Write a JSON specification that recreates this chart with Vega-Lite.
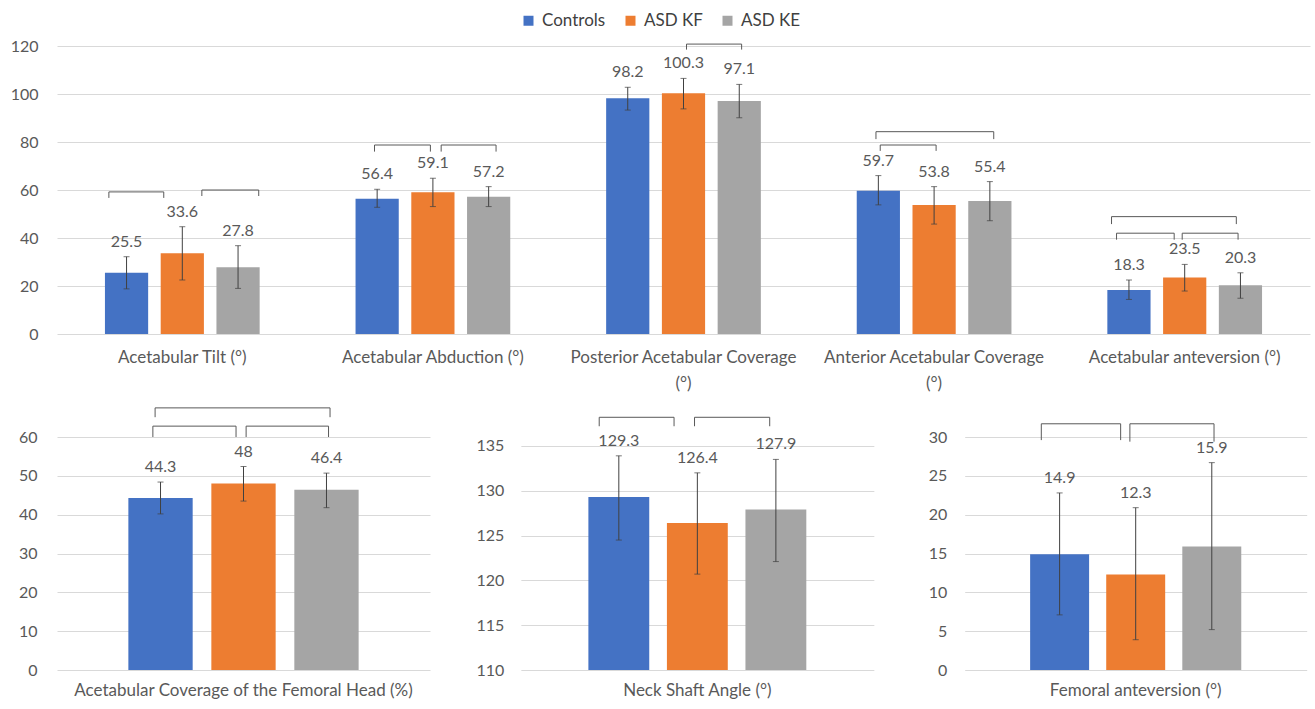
{
  "$schema": "https://vega.github.io/schema/vega-lite/v6.json",
  "padding": {"left": 10, "top": 12, "right": 5, "bottom": 5},
  "config": {
    "font": "Lato",
    "view": {"stroke": null},
    "axis": {"labelColor": "#595959", "labelFontSize": 16, "domain": false, "ticks": false, "title": null, "gridColor": "#d9d9d9", "gridWidth": 1, "labelOverlap": false},
    "axisX": {"grid": false, "labelAngle": 0, "labelLimit": 0, "labelLineHeight": 26, "labelFontSize": 17}
  },
  "datasets": {
    "top": [
      {"group": "Acetabular Tilt (°)", "series": "Controls", "mean": 25.5, "lo": 18.8, "hi": 32.2},
      {"group": "Acetabular Tilt (°)", "series": "ASD KF", "mean": 33.6, "lo": 22.5, "hi": 44.7},
      {"group": "Acetabular Tilt (°)", "series": "ASD KE", "mean": 27.8, "lo": 19.0, "hi": 36.8},
      {"group": "Acetabular Abduction (°)", "series": "Controls", "mean": 56.4, "lo": 52.8, "hi": 60.3},
      {"group": "Acetabular Abduction (°)", "series": "ASD KF", "mean": 59.1, "lo": 53.1, "hi": 64.9},
      {"group": "Acetabular Abduction (°)", "series": "ASD KE", "mean": 57.2, "lo": 53.1, "hi": 61.4},
      {"group": "Posterior Acetabular Coverage (°)", "series": "Controls", "mean": 98.2, "lo": 93.3, "hi": 102.8},
      {"group": "Posterior Acetabular Coverage (°)", "series": "ASD KF", "mean": 100.3, "lo": 93.8, "hi": 106.5},
      {"group": "Posterior Acetabular Coverage (°)", "series": "ASD KE", "mean": 97.1, "lo": 90.1, "hi": 104.0},
      {"group": "Anterior Acetabular Coverage (°)", "series": "Controls", "mean": 59.7, "lo": 53.8, "hi": 66.0},
      {"group": "Anterior Acetabular Coverage (°)", "series": "ASD KF", "mean": 53.8, "lo": 45.8, "hi": 61.4},
      {"group": "Anterior Acetabular Coverage (°)", "series": "ASD KE", "mean": 55.4, "lo": 47.2, "hi": 63.5},
      {"group": "Acetabular anteversion (°)", "series": "Controls", "mean": 18.3, "lo": 14.4, "hi": 22.5},
      {"group": "Acetabular anteversion (°)", "series": "ASD KF", "mean": 23.5, "lo": 17.9, "hi": 29.0},
      {"group": "Acetabular anteversion (°)", "series": "ASD KE", "mean": 20.3, "lo": 14.9, "hi": 25.5}
    ],
    "topBr": [
      {"x1": 0.207, "x2": 0.426, "y": 59.2, "yEnd": 56.7},
      {"x1": 0.578, "x2": 0.805, "y": 60, "yEnd": 57.5},
      {"x1": 1.267, "x2": 1.49, "y": 78.75, "yEnd": 76.0},
      {"x1": 1.533, "x2": 1.752, "y": 78.75, "yEnd": 76.0},
      {"x1": 2.512, "x2": 2.732, "y": 120.8, "yEnd": 118.5},
      {"x1": 3.268, "x2": 3.738, "y": 84.3, "yEnd": 81.2},
      {"x1": 3.285, "x2": 3.508, "y": 78.75, "yEnd": 76.3},
      {"x1": 4.208, "x2": 4.706, "y": 48.9, "yEnd": 45.8},
      {"x1": 4.228, "x2": 4.458, "y": 42, "yEnd": 39.3},
      {"x1": 4.49, "x2": 4.713, "y": 42, "yEnd": 39.3}
    ],
    "bot": [
      {"panel": "cov", "group": "Acetabular Coverage of the Femoral Head (%)", "series": "Controls", "mean": 44.3, "lo": 40.2, "hi": 48.4},
      {"panel": "cov", "group": "Acetabular Coverage of the Femoral Head (%)", "series": "ASD KF", "mean": 48, "lo": 43.5, "hi": 52.4},
      {"panel": "cov", "group": "Acetabular Coverage of the Femoral Head (%)", "series": "ASD KE", "mean": 46.4, "lo": 41.8, "hi": 50.7},
      {"panel": "nsa", "group": "Neck Shaft Angle (°)", "series": "Controls", "mean": 129.3, "lo": 124.5, "hi": 133.9},
      {"panel": "nsa", "group": "Neck Shaft Angle (°)", "series": "ASD KF", "mean": 126.4, "lo": 120.7, "hi": 132.0},
      {"panel": "nsa", "group": "Neck Shaft Angle (°)", "series": "ASD KE", "mean": 127.9, "lo": 122.1, "hi": 133.5},
      {"panel": "fa", "group": "Femoral anteversion (°)", "series": "Controls", "mean": 14.9, "lo": 7.1, "hi": 22.8},
      {"panel": "fa", "group": "Femoral anteversion (°)", "series": "ASD KF", "mean": 12.3, "lo": 3.9, "hi": 20.9},
      {"panel": "fa", "group": "Femoral anteversion (°)", "series": "ASD KE", "mean": 15.9, "lo": 5.2, "hi": 26.7}
    ],
    "botBr": [
      {"panel": "cov", "x1": 0.263, "x2": 0.732, "y": 67.5, "yEnd": 65.1},
      {"panel": "cov", "x1": 0.257, "x2": 0.48, "y": 62.8, "yEnd": 60},
      {"panel": "cov", "x1": 0.507, "x2": 0.728, "y": 62.8, "yEnd": 60},
      {"panel": "nsa", "x1": 0.222, "x2": 0.434, "y": 138.2, "yEnd": 137.2},
      {"panel": "nsa", "x1": 0.492, "x2": 0.705, "y": 138.2, "yEnd": 137.2},
      {"panel": "fa", "x1": 0.224, "x2": 0.456, "y": 31.7, "yEnd": 29.6},
      {"panel": "fa", "x1": 0.483, "x2": 0.729, "y": 31.7, "yEnd": 29.4}
    ]
  },
  "spacing": 16,
  "resolve": {"scale": {"x": "independent", "xOffset": "independent", "y": "independent"}},
  "vconcat": [
    {
      "width": 1253,
      "height": 288,
      "layer": [
        {
          "data": {"name": "top"},
          "encoding": {
            "x": {"field": "group", "type": "nominal", "sort": ["Acetabular Tilt (°)", "Acetabular Abduction (°)", "Posterior Acetabular Coverage (°)", "Anterior Acetabular Coverage (°)", "Acetabular anteversion (°)"], "scale": {"paddingInner": 0, "paddingOuter": 0}, "axis": {"labelPadding": 15, "labelExpr": "length(datum.label) > 28 ? [replace(datum.label, ' (°)', ''), '(°)'] : datum.label"}},
            "xOffset": {"field": "series", "type": "nominal", "sort": ["Controls", "ASD KF", "ASD KE"], "scale": {"paddingInner": 0.225, "paddingOuter": 0.86}}
          },
          "layer": [
            {
              "mark": {"type": "bar"},
              "encoding": {
                "y": {"field": "mean", "type": "quantitative", "scale": {"domain": [0, 120]}, "axis": {"values": [0, 20, 40, 60, 80, 100, 120], "grid": true, "labelPadding": 19}},
                "color": {"field": "series", "type": "nominal", "scale": {"domain": ["Controls", "ASD KF", "ASD KE"], "range": ["#4472C4", "#ED7D31", "#A5A5A5"]},
                  "legend": {"orient": "none", "legendX": 463, "legendY": -34, "direction": "horizontal", "title": null, "symbolType": "square", "symbolSize": 100, "symbolStrokeWidth": 0, "labelFontSize": 17, "labelColor": "#404040", "columnPadding": 16, "labelOffset": 5}}
              }
            },
            {"mark": {"type": "rule", "color": "#404040", "strokeWidth": 1}, "encoding": {"y": {"field": "lo", "type": "quantitative", "axis": {"values": [0, 20, 40, 60, 80, 100, 120], "grid": true, "labelPadding": 19}}, "y2": {"field": "hi"}}},
            {"mark": {"type": "tick", "color": "#404040", "size": 6, "thickness": 1}, "encoding": {"y": {"field": "lo", "type": "quantitative", "axis": {"values": [0, 20, 40, 60, 80, 100, 120], "grid": true, "labelPadding": 19}}}},
            {"mark": {"type": "tick", "color": "#404040", "size": 6, "thickness": 1}, "encoding": {"y": {"field": "hi", "type": "quantitative", "axis": {"values": [0, 20, 40, 60, 80, 100, 120], "grid": true, "labelPadding": 19}}}},
            {"mark": {"type": "text", "dy": -15, "baseline": "middle", "fontSize": 16, "color": "#595959"}, "encoding": {"y": {"field": "hi", "type": "quantitative", "axis": {"values": [0, 20, 40, 60, 80, 100, 120], "grid": true, "labelPadding": 19}}, "text": {"field": "mean", "type": "quantitative"}}}
          ]
        },
        {
          "data": {"name": "topBr"},
          "layer": [
            {"mark": {"type": "rule", "color": "#595959", "strokeWidth": 1}, "encoding": {"x": {"field": "x1", "type": "quantitative", "scale": {"domain": [0, 5], "nice": false, "zero": false}, "axis": null}, "x2": {"field": "x2"}, "y": {"field": "y", "type": "quantitative", "scale": {"domain": [0, 120]}, "axis": {"values": [0, 20, 40, 60, 80, 100, 120], "grid": true, "labelPadding": 19}}}},
            {"mark": {"type": "rule", "color": "#595959", "strokeWidth": 1}, "encoding": {"x": {"field": "x1", "type": "quantitative"}, "y": {"field": "y", "type": "quantitative", "axis": {"values": [0, 20, 40, 60, 80, 100, 120], "grid": true, "labelPadding": 19}}, "y2": {"field": "yEnd"}}},
            {"mark": {"type": "rule", "color": "#595959", "strokeWidth": 1}, "encoding": {"x": {"field": "x2", "type": "quantitative"}, "y": {"field": "y", "type": "quantitative", "axis": {"values": [0, 20, 40, 60, 80, 100, 120], "grid": true, "labelPadding": 19}}, "y2": {"field": "yEnd"}}}
          ]
        }
      ],
      "resolve": {"scale": {"x": "independent"}}
    },
    {
      "bounds": "flush",
      "spacing": 90.85,
      "resolve": {"scale": {"x": "independent", "xOffset": "independent", "y": "independent"}},
      "hconcat": [
        {
          "width": 373,
          "height": 233,
          "layer": [
            {
              "data": {"name": "bot"},
              "transform": [{"filter": "datum.panel == 'cov'"}],
              "encoding": {
                "x": {"field": "group", "type": "nominal", "scale": {"paddingInner": 0, "paddingOuter": 0}, "axis": {"labelPadding": 12}},
                "xOffset": {"field": "series", "type": "nominal", "sort": ["Controls", "ASD KF", "ASD KE"], "scale": {"paddingInner": 0.225, "paddingOuter": 0.86}}
              },
              "layer": [
                {"mark": {"type": "bar"}, "encoding": {"y": {"field": "mean", "type": "quantitative", "scale": {"domain": [0, 60]}, "axis": {"values": [0, 10, 20, 30, 40, 50, 60], "grid": true, "labelPadding": 20}}, "color": {"field": "series", "type": "nominal", "scale": {"domain": ["Controls", "ASD KF", "ASD KE"], "range": ["#4472C4", "#ED7D31", "#A5A5A5"]}, "legend": null}}},
                {"mark": {"type": "rule", "color": "#404040", "strokeWidth": 1}, "encoding": {"y": {"field": "lo", "type": "quantitative", "axis": {"values": [0, 10, 20, 30, 40, 50, 60], "grid": true, "labelPadding": 20}}, "y2": {"field": "hi"}}},
                {"mark": {"type": "tick", "color": "#404040", "size": 6, "thickness": 1}, "encoding": {"y": {"field": "lo", "type": "quantitative", "axis": {"values": [0, 10, 20, 30, 40, 50, 60], "grid": true, "labelPadding": 20}}}},
                {"mark": {"type": "tick", "color": "#404040", "size": 6, "thickness": 1}, "encoding": {"y": {"field": "hi", "type": "quantitative", "axis": {"values": [0, 10, 20, 30, 40, 50, 60], "grid": true, "labelPadding": 20}}}},
                {"mark": {"type": "text", "dy": -15, "baseline": "middle", "fontSize": 16, "color": "#595959"}, "encoding": {"y": {"field": "hi", "type": "quantitative", "axis": {"values": [0, 10, 20, 30, 40, 50, 60], "grid": true, "labelPadding": 20}}, "text": {"field": "mean", "type": "quantitative"}}}
              ]
            },
            {
              "data": {"name": "botBr"},
              "transform": [{"filter": "datum.panel == 'cov'"}],
              "layer": [
                {"mark": {"type": "rule", "color": "#595959", "strokeWidth": 1}, "encoding": {"x": {"field": "x1", "type": "quantitative", "scale": {"domain": [0, 1], "nice": false, "zero": false}, "axis": null}, "x2": {"field": "x2"}, "y": {"field": "y", "type": "quantitative", "scale": {"domain": [0, 60]}, "axis": {"values": [0, 10, 20, 30, 40, 50, 60], "grid": true, "labelPadding": 20}}}},
                {"mark": {"type": "rule", "color": "#595959", "strokeWidth": 1}, "encoding": {"x": {"field": "x1", "type": "quantitative"}, "y": {"field": "y", "type": "quantitative", "axis": {"values": [0, 10, 20, 30, 40, 50, 60], "grid": true, "labelPadding": 20}}, "y2": {"field": "yEnd"}}},
                {"mark": {"type": "rule", "color": "#595959", "strokeWidth": 1}, "encoding": {"x": {"field": "x2", "type": "quantitative"}, "y": {"field": "y", "type": "quantitative", "axis": {"values": [0, 10, 20, 30, 40, 50, 60], "grid": true, "labelPadding": 20}}, "y2": {"field": "yEnd"}}}
              ]
            }
          ],
          "resolve": {"scale": {"x": "independent"}}
        },
        {
          "width": 353,
          "height": 233,
          "layer": [
            {
              "data": {"name": "bot"},
              "transform": [{"filter": "datum.panel == 'nsa'"}],
              "encoding": {
                "x": {"field": "group", "type": "nominal", "scale": {"paddingInner": 0, "paddingOuter": 0}, "axis": {"labelPadding": 12}},
                "xOffset": {"field": "series", "type": "nominal", "sort": ["Controls", "ASD KF", "ASD KE"], "scale": {"paddingInner": 0.225, "paddingOuter": 0.86}}
              },
              "layer": [
                {"mark": {"type": "bar"}, "encoding": {"y": {"field": "mean", "type": "quantitative", "scale": {"domain": [110, 135], "zero": false}, "axis": {"values": [110, 115, 120, 125, 130, 135], "grid": true, "labelPadding": 17}}, "y2": {"datum": 110}, "color": {"field": "series", "type": "nominal", "scale": {"domain": ["Controls", "ASD KF", "ASD KE"], "range": ["#4472C4", "#ED7D31", "#A5A5A5"]}, "legend": null}}},
                {"mark": {"type": "rule", "color": "#404040", "strokeWidth": 1}, "encoding": {"y": {"field": "lo", "type": "quantitative", "axis": {"values": [110, 115, 120, 125, 130, 135], "grid": true, "labelPadding": 17}}, "y2": {"field": "hi"}}},
                {"mark": {"type": "tick", "color": "#404040", "size": 6, "thickness": 1}, "encoding": {"y": {"field": "lo", "type": "quantitative", "axis": {"values": [110, 115, 120, 125, 130, 135], "grid": true, "labelPadding": 17}}}},
                {"mark": {"type": "tick", "color": "#404040", "size": 6, "thickness": 1}, "encoding": {"y": {"field": "hi", "type": "quantitative", "axis": {"values": [110, 115, 120, 125, 130, 135], "grid": true, "labelPadding": 17}}}},
                {"mark": {"type": "text", "dy": -15, "baseline": "middle", "fontSize": 16, "color": "#595959"}, "encoding": {"y": {"field": "hi", "type": "quantitative", "axis": {"values": [110, 115, 120, 125, 130, 135], "grid": true, "labelPadding": 17}}, "text": {"field": "mean", "type": "quantitative"}}}
              ]
            },
            {
              "data": {"name": "botBr"},
              "transform": [{"filter": "datum.panel == 'nsa'"}],
              "layer": [
                {"mark": {"type": "rule", "color": "#595959", "strokeWidth": 1}, "encoding": {"x": {"field": "x1", "type": "quantitative", "scale": {"domain": [0, 1], "nice": false, "zero": false}, "axis": null}, "x2": {"field": "x2"}, "y": {"field": "y", "type": "quantitative", "scale": {"domain": [110, 135], "zero": false}, "axis": {"values": [110, 115, 120, 125, 130, 135], "grid": true, "labelPadding": 17}}}},
                {"mark": {"type": "rule", "color": "#595959", "strokeWidth": 1}, "encoding": {"x": {"field": "x1", "type": "quantitative"}, "y": {"field": "y", "type": "quantitative", "axis": {"values": [110, 115, 120, 125, 130, 135], "grid": true, "labelPadding": 17}}, "y2": {"field": "yEnd"}}},
                {"mark": {"type": "rule", "color": "#595959", "strokeWidth": 1}, "encoding": {"x": {"field": "x2", "type": "quantitative"}, "y": {"field": "y", "type": "quantitative", "axis": {"values": [110, 115, 120, 125, 130, 135], "grid": true, "labelPadding": 17}}, "y2": {"field": "yEnd"}}}
              ]
            }
          ],
          "resolve": {"scale": {"x": "independent"}}
        },
        {
          "width": 342,
          "height": 233,
          "layer": [
            {
              "data": {"name": "bot"},
              "transform": [{"filter": "datum.panel == 'fa'"}],
              "encoding": {
                "x": {"field": "group", "type": "nominal", "scale": {"paddingInner": 0, "paddingOuter": 0}, "axis": {"labelPadding": 12}},
                "xOffset": {"field": "series", "type": "nominal", "sort": ["Controls", "ASD KF", "ASD KE"], "scale": {"paddingInner": 0.225, "paddingOuter": 0.86}}
              },
              "layer": [
                {"mark": {"type": "bar"}, "encoding": {"y": {"field": "mean", "type": "quantitative", "scale": {"domain": [0, 30]}, "axis": {"values": [0, 5, 10, 15, 20, 25, 30], "grid": true, "labelPadding": 18}}, "color": {"field": "series", "type": "nominal", "scale": {"domain": ["Controls", "ASD KF", "ASD KE"], "range": ["#4472C4", "#ED7D31", "#A5A5A5"]}, "legend": null}}},
                {"mark": {"type": "rule", "color": "#404040", "strokeWidth": 1}, "encoding": {"y": {"field": "lo", "type": "quantitative", "axis": {"values": [0, 5, 10, 15, 20, 25, 30], "grid": true, "labelPadding": 18}}, "y2": {"field": "hi"}}},
                {"mark": {"type": "tick", "color": "#404040", "size": 6, "thickness": 1}, "encoding": {"y": {"field": "lo", "type": "quantitative", "axis": {"values": [0, 5, 10, 15, 20, 25, 30], "grid": true, "labelPadding": 18}}}},
                {"mark": {"type": "tick", "color": "#404040", "size": 6, "thickness": 1}, "encoding": {"y": {"field": "hi", "type": "quantitative", "axis": {"values": [0, 5, 10, 15, 20, 25, 30], "grid": true, "labelPadding": 18}}}},
                {"mark": {"type": "text", "dy": -15, "baseline": "middle", "fontSize": 16, "color": "#595959"}, "encoding": {"y": {"field": "hi", "type": "quantitative", "axis": {"values": [0, 5, 10, 15, 20, 25, 30], "grid": true, "labelPadding": 18}}, "text": {"field": "mean", "type": "quantitative"}}}
              ]
            },
            {
              "data": {"name": "botBr"},
              "transform": [{"filter": "datum.panel == 'fa'"}],
              "layer": [
                {"mark": {"type": "rule", "color": "#595959", "strokeWidth": 1}, "encoding": {"x": {"field": "x1", "type": "quantitative", "scale": {"domain": [0, 1], "nice": false, "zero": false}, "axis": null}, "x2": {"field": "x2"}, "y": {"field": "y", "type": "quantitative", "scale": {"domain": [0, 30]}, "axis": {"values": [0, 5, 10, 15, 20, 25, 30], "grid": true, "labelPadding": 18}}}},
                {"mark": {"type": "rule", "color": "#595959", "strokeWidth": 1}, "encoding": {"x": {"field": "x1", "type": "quantitative"}, "y": {"field": "y", "type": "quantitative", "axis": {"values": [0, 5, 10, 15, 20, 25, 30], "grid": true, "labelPadding": 18}}, "y2": {"field": "yEnd"}}},
                {"mark": {"type": "rule", "color": "#595959", "strokeWidth": 1}, "encoding": {"x": {"field": "x2", "type": "quantitative"}, "y": {"field": "y", "type": "quantitative", "axis": {"values": [0, 5, 10, 15, 20, 25, 30], "grid": true, "labelPadding": 18}}, "y2": {"field": "yEnd"}}}
              ]
            }
          ],
          "resolve": {"scale": {"x": "independent"}}
        }
      ]
    }
  ]
}
